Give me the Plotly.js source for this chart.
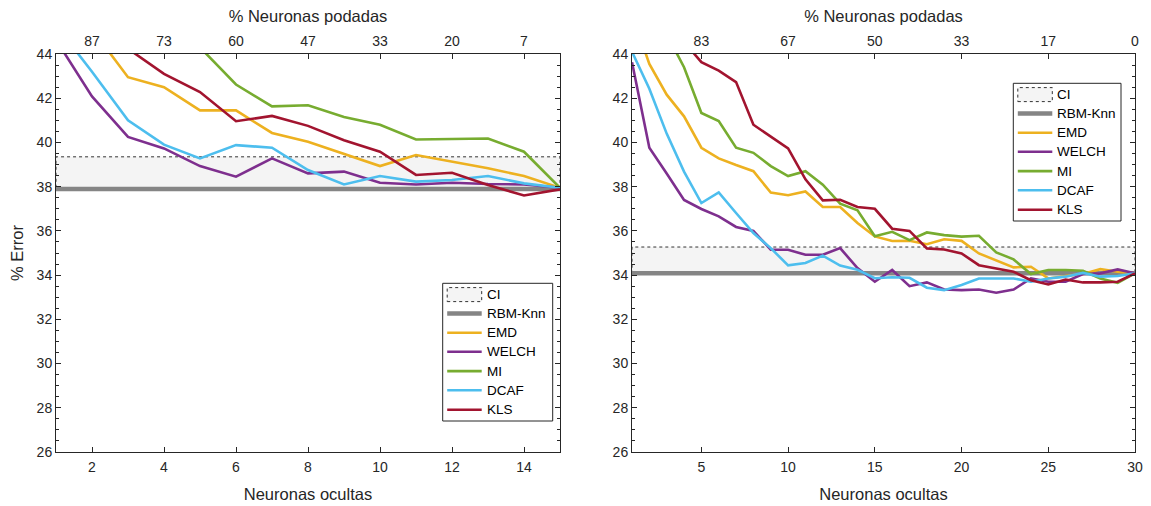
<!DOCTYPE html>
<html>
<head>
<meta charset="utf-8">
<script src="https://cdn.plot.ly/plotly-3.0.1.min.js"></script>
<style>html,body{margin:0;padding:0;background:#fff;}#chart{width:1151px;height:506px;}</style>
</head>
<body>
<div id="chart"></div>
<script>
// ---------- data ----------
const hiddenLeft = [1,2,3,4,5,6,7,8,9,10,11,12,13,14,15];
const hiddenRight = [1,2,3,4,5,6,7,8,9,10,11,12,13,14,15,16,17,18,19,20,21,22,23,24,25,26,27,28,29,30];

const bottomTicksLeft = [2,4,6,8,10,12,14];
const topTickPosLeft = [2,4,6,8,10,12,14];
const topTickTextLeft = ['87','73','60','47','33','20','7'];
const bottomTicksRight = [5,10,15,20,25,30];
const topTickPosRight = [5,10,15,20,25,30];
const topTickTextRight = ['83','67','50','33','17','0'];

const rbmLeft = 37.9;
const ciLeft = [37.9, 39.35];
const rbmRight = 34.08;
const ciRight = [34.08, 35.27];

const emdLeft   = [47.3, 45.1, 42.95, 42.5, 41.45, 41.45, 40.43, 40.03, 39.47, 38.93, 39.43, 39.13, 38.83, 38.48, 37.95];
const welchLeft = [44.64, 42.08, 40.25, 39.73, 38.93, 38.45, 39.28, 38.6, 38.68, 38.18, 38.1, 38.18, 38.12, 38.1, 37.95];
const miLeft    = [50.0, 49.0, 47.5, 46.0, 44.3, 42.62, 41.63, 41.68, 41.15, 40.8, 40.13, 40.16, 40.18, 39.58, 37.95];
const dcafLeft  = [45.3, 43.2, 41.0, 39.9, 39.28, 39.88, 39.76, 38.75, 38.1, 38.48, 38.23, 38.3, 38.48, 38.15, 37.95];
const klsLeft   = [47.5, 45.5, 44.24, 43.1, 42.28, 40.96, 41.2, 40.75, 40.1, 39.58, 38.53, 38.63, 38.08, 37.6, 37.88];

const emdRight   = [45.8, 43.55, 42.16, 41.18, 39.76, 39.28, 38.98, 38.7, 37.73, 37.61, 37.78, 37.08, 37.08, 36.36, 35.75, 35.54, 35.55, 35.4, 35.62, 35.55, 34.98, 34.65, 34.35, 34.38, 33.85, 33.96, 34.05, 34.27, 34.15, 34.08];
const welchRight = [43.63, 39.76, 38.6, 37.4, 36.99, 36.66, 36.18, 36.0, 35.15, 35.15, 34.92, 34.92, 35.22, 34.32, 33.7, 34.23, 33.5, 33.67, 33.35, 33.32, 33.35, 33.2, 33.35, 33.85, 33.7, 33.7, 34.05, 34.08, 34.26, 34.08];
const miRight    = [48.0, 46.5, 44.9, 43.4, 41.33, 40.97, 39.76, 39.53, 38.93, 38.48, 38.7, 38.09, 37.23, 36.93, 35.76, 35.96, 35.58, 35.93, 35.81, 35.74, 35.78, 35.03, 34.71, 34.05, 34.23, 34.23, 34.2, 33.85, 33.65, 34.08];
const dcafRight  = [44.1, 42.43, 40.4, 38.68, 37.26, 37.74, 36.81, 35.9, 35.22, 34.44, 34.55, 34.88, 34.43, 34.24, 33.86, 33.9, 33.88, 33.43, 33.32, 33.55, 33.85, 33.85, 33.85, 33.7, 33.85, 33.93, 34.1, 33.93, 33.96, 34.08];
const klsRight   = [48.5, 47.2, 46.0, 44.55, 43.63, 43.25, 42.73, 40.8, 40.28, 39.73, 38.33, 37.38, 37.41, 37.08, 37.0, 36.1, 36.0, 35.21, 35.16, 34.98, 34.45, 34.3, 34.15, 33.77, 33.58, 33.8, 33.67, 33.67, 33.7, 34.08];

const legendLabels = ['CI','RBM-Knn','EMD','WELCH','MI','DCAF','KLS'];
const seriesNames = ['EMD','WELCH','MI','DCAF','KLS'];
const seriesColors = ['#EDB120','#7E2F8E','#77AC30','#4DBEEE','#A2142F'];

// ---------- traces ----------
const TXT = '#262626';
const CI_FILL = '#f4f4f4';
const RBM_COLOR = '#858585';
function ciTrace(xs, ci, xa, ya){
  const x0 = xs[0], x1 = xs[xs.length-1];
  return {x:[x0,x1,x1,x0,x0], y:[ci[0],ci[0],ci[1],ci[1],ci[0]], xaxis:xa, yaxis:ya,
    mode:'lines', fill:'toself', fillcolor:CI_FILL, line:{color:'#333', width:1, dash:'dot'},
    name:'CI', showlegend:false, hoverinfo:'skip'};
}
function rbmTrace(xs, v, xa, ya){
  return {x:xs, y:xs.map(()=>v), xaxis:xa, yaxis:ya, mode:'lines',
    line:{color:RBM_COLOR, width:4.5}, name:'RBM-Knn', showlegend:false};
}
function lineTrace(xs, ys, i, xa, ya){
  return {x:xs, y:ys, xaxis:xa, yaxis:ya, mode:'lines',
    line:{color:seriesColors[i], width:2.6}, name:seriesNames[i], showlegend:false};
}
const leftSets = [emdLeft, welchLeft, miLeft, dcafLeft, klsLeft];
const rightSets = [emdRight, welchRight, miRight, dcafRight, klsRight];

const traces = [];
traces.push(ciTrace(hiddenLeft, ciLeft, 'x', 'y'));
traces.push(rbmTrace(hiddenLeft, rbmLeft, 'x', 'y'));
leftSets.forEach((s,i)=>traces.push(lineTrace(hiddenLeft, s, i, 'x', 'y')));
traces.push(ciTrace(hiddenRight, ciRight, 'x2', 'y2'));
traces.push(rbmTrace(hiddenRight, rbmRight, 'x2', 'y2'));
rightSets.forEach((s,i)=>traces.push(lineTrace(hiddenRight, s, i, 'x2', 'y2')));
// helper traces so the top axes are drawn
traces.push({x:hiddenLeft, y:hiddenLeft.map(()=>30), xaxis:'x3', yaxis:'y', mode:'lines', line:{width:0}, opacity:0, showlegend:false, hoverinfo:'skip'});
traces.push({x:hiddenRight, y:hiddenRight.map(()=>30), xaxis:'x4', yaxis:'y2', mode:'lines', line:{width:0}, opacity:0, showlegend:false, hoverinfo:'skip'});

// ---------- layout ----------
const W = 1151, H = 506;
const px = v => v / W;
const py = v => 1 - v / H;
const domL = [px(56), px(560)], domR = [px(632), px(1135)];
const domY = [py(452), py(54)];
const FAM = 'Liberation Sans, Arial, sans-serif';
const tickFont = {family:FAM, size:14, color:TXT};
const titleFont = {family:FAM, size:16.5, color:TXT};

function xBottom(dom, range, tv, anchor){
  return {domain:dom, range:range, anchor:anchor, tickvals:tv, ticks:'inside', ticklen:5, tickcolor:TXT,
    ticklabelstandoff:2,
    showline:true, linecolor:TXT, linewidth:1, showgrid:false, zeroline:false, tickfont:tickFont,
    title:{text:'Neuronas ocultas', font:titleFont, standoff:14}};
}
function xTop(over, range, tv, tt, anchor){
  return {overlaying:over, side:'top', anchor:anchor, range:range, tickvals:tv, ticktext:tt, ticks:'inside', ticklen:5,
    ticklabelstandoff:1,
    tickcolor:TXT, showline:true, linecolor:TXT, linewidth:1, showgrid:false, zeroline:false, tickfont:tickFont,
    title:{text:'% Neuronas podadas', font:titleFont, standoff:6}};
}
function yAxis(anchor, withTitle){
  const a = {domain:domY, range:[26,44], anchor:anchor, dtick:2, ticks:'inside', ticklen:5, tickcolor:TXT,
    showline:true, linecolor:TXT, linewidth:1, mirror:'ticks', showgrid:false, zeroline:false, tickfont:tickFont,
    minor:{dtick:0.5, ticks:'inside', ticklen:3, tickcolor:TXT}};
  if (withTitle) a.title = {text:'% Error', font:titleFont, standoff:8};
  return a;
}

// ---------- manual legends (MATLAB style) ----------
const shapes = [];
const annotations = [];
function buildLegend(left, top, width){
  const height = 137.7;
  shapes.push({type:'rect', xref:'paper', yref:'paper', x0:px(left), x1:px(left+width), y0:py(top+height), y1:py(top),
    fillcolor:'#fff', line:{color:TXT, width:1}, layer:'above'});
  const symX0 = left + 4.5, symX1 = left + 39;
  const rowY = [11.3, 30.3, 49.5, 68.5, 87.8, 107, 126.5];
  rowY.forEach((dy, i) => {
    const cy = top + dy;
    if (i === 0) {
      shapes.push({type:'rect', xref:'paper', yref:'paper', x0:px(symX0), x1:px(symX1), y0:py(cy+7), y1:py(cy-7),
        fillcolor:CI_FILL, line:{color:'#333', width:1, dash:'dot'}, layer:'above'});
    } else {
      const color = i === 1 ? RBM_COLOR : seriesColors[i-2];
      const w = i === 1 ? 4.5 : 2.6;
      shapes.push({type:'line', xref:'paper', yref:'paper', x0:px(symX0), x1:px(symX1), y0:py(cy), y1:py(cy),
        line:{color:color, width:w}, layer:'above'});
    }
    annotations.push({xref:'paper', yref:'paper', x:px(left+42), y:py(cy), xanchor:'left', yanchor:'middle',
      text:legendLabels[i], showarrow:false, font:{family:FAM, size:13.5, color:'#000'}});
  });
}
buildLegend(442.7, 283.3, 110);
buildLegend(1013.3, 83.3, 107.7);

const layout = {
  width:W, height:H, margin:{l:0, r:0, t:0, b:0}, paper_bgcolor:'#fff', plot_bgcolor:'#fff',
  showlegend:false,
  xaxis: xBottom(domL, [1,15], bottomTicksLeft, 'y'),
  xaxis2: xBottom(domR, [1,30], bottomTicksRight, 'y2'),
  xaxis3: xTop('x', [1,15], topTickPosLeft, topTickTextLeft, 'y'),
  xaxis4: xTop('x2', [1,30], topTickPosRight, topTickTextRight, 'y2'),
  yaxis: yAxis('x', true),
  yaxis2: yAxis('x2', false),
  shapes: shapes,
  annotations: annotations
};

Plotly.newPlot('chart', traces, layout, {staticPlot:true, displayModeBar:false});
</script>
</body>
</html>
